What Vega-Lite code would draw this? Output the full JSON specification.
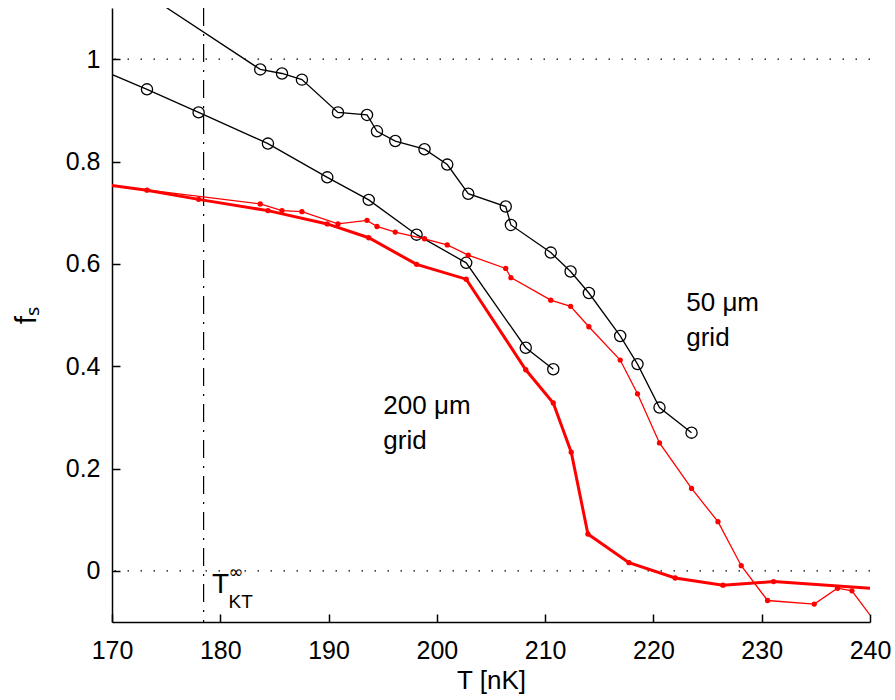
{
  "$schema": "https://vega.github.io/schema/vega-lite/v6.json",
  "width": 758,
  "height": 614,
  "autosize": {"type": "none"},
  "padding": {"left": 112, "top": 8, "right": 25, "bottom": 78},
  "background": "white",
  "config": {
    "view": {"stroke": null},
    "font": "Liberation Sans",
    "axis": {
      "grid": false,
      "domainColor": "black",
      "domainWidth": 1.5,
      "tickColor": "black",
      "tickWidth": 1.5,
      "tickSize": -8,
      "labelFont": "Liberation Sans",
      "labelFontSize": 25,
      "labelColor": "black",
      "labelFlush": false,
      "labelOverlap": false,
      "titleFont": "Liberation Sans",
      "titleFontSize": 26,
      "titleFontWeight": "normal",
      "titleColor": "black"
    }
  },
  "datasets": {
    "curves": [
      {"series": "b50", "T": 172, "f": 1.143},
      {"series": "b50", "T": 183.69, "f": 0.980},
      {"series": "b50", "T": 185.70, "f": 0.972},
      {"series": "b50", "T": 187.54, "f": 0.960},
      {"series": "b50", "T": 190.87, "f": 0.896},
      {"series": "b50", "T": 193.55, "f": 0.891},
      {"series": "b50", "T": 194.47, "f": 0.859},
      {"series": "b50", "T": 196.16, "f": 0.840},
      {"series": "b50", "T": 198.86, "f": 0.824},
      {"series": "b50", "T": 200.96, "f": 0.794},
      {"series": "b50", "T": 202.90, "f": 0.737},
      {"series": "b50", "T": 206.36, "f": 0.712},
      {"series": "b50", "T": 206.84, "f": 0.676},
      {"series": "b50", "T": 210.52, "f": 0.622},
      {"series": "b50", "T": 212.35, "f": 0.585},
      {"series": "b50", "T": 214.04, "f": 0.543},
      {"series": "b50", "T": 216.93, "f": 0.459},
      {"series": "b50", "T": 218.53, "f": 0.404},
      {"series": "b50", "T": 220.56, "f": 0.319},
      {"series": "b50", "T": 223.52, "f": 0.270},
      {"series": "b200", "T": 168, "f": 0.988},
      {"series": "b200", "T": 173.23, "f": 0.941},
      {"series": "b200", "T": 178.00, "f": 0.896},
      {"series": "b200", "T": 184.40, "f": 0.835},
      {"series": "b200", "T": 189.88, "f": 0.769},
      {"series": "b200", "T": 193.71, "f": 0.725},
      {"series": "b200", "T": 198.13, "f": 0.657},
      {"series": "b200", "T": 202.71, "f": 0.602},
      {"series": "b200", "T": 208.21, "f": 0.436},
      {"series": "b200", "T": 210.75, "f": 0.394},
      {"series": "r50", "T": 168, "f": 0.758},
      {"series": "r50", "T": 183.69, "f": 0.717},
      {"series": "r50", "T": 185.70, "f": 0.704},
      {"series": "r50", "T": 187.54, "f": 0.702},
      {"series": "r50", "T": 190.87, "f": 0.678},
      {"series": "r50", "T": 193.55, "f": 0.685},
      {"series": "r50", "T": 194.47, "f": 0.673},
      {"series": "r50", "T": 196.16, "f": 0.662},
      {"series": "r50", "T": 198.86, "f": 0.649},
      {"series": "r50", "T": 200.96, "f": 0.637},
      {"series": "r50", "T": 202.90, "f": 0.617},
      {"series": "r50", "T": 206.36, "f": 0.591},
      {"series": "r50", "T": 206.84, "f": 0.573},
      {"series": "r50", "T": 210.52, "f": 0.529},
      {"series": "r50", "T": 212.35, "f": 0.517},
      {"series": "r50", "T": 214.04, "f": 0.477},
      {"series": "r50", "T": 216.93, "f": 0.412},
      {"series": "r50", "T": 218.53, "f": 0.346},
      {"series": "r50", "T": 220.56, "f": 0.250},
      {"series": "r50", "T": 223.52, "f": 0.161},
      {"series": "r50", "T": 225.96, "f": 0.096},
      {"series": "r50", "T": 228.11, "f": 0.010},
      {"series": "r50", "T": 230.54, "f": -0.058},
      {"series": "r50", "T": 234.85, "f": -0.065},
      {"series": "r50", "T": 237.00, "f": -0.034},
      {"series": "r50", "T": 238.33, "f": -0.039},
      {"series": "r50", "T": 242, "f": -0.143},
      {"series": "r200", "T": 168, "f": 0.759},
      {"series": "r200", "T": 173.23, "f": 0.744},
      {"series": "r200", "T": 178.00, "f": 0.726},
      {"series": "r200", "T": 184.40, "f": 0.704},
      {"series": "r200", "T": 189.88, "f": 0.678},
      {"series": "r200", "T": 193.71, "f": 0.651},
      {"series": "r200", "T": 198.13, "f": 0.599},
      {"series": "r200", "T": 202.71, "f": 0.570},
      {"series": "r200", "T": 208.21, "f": 0.393},
      {"series": "r200", "T": 210.75, "f": 0.328},
      {"series": "r200", "T": 212.41, "f": 0.232},
      {"series": "r200", "T": 213.95, "f": 0.072},
      {"series": "r200", "T": 217.74, "f": 0.016},
      {"series": "r200", "T": 222.01, "f": -0.014},
      {"series": "r200", "T": 226.42, "f": -0.028},
      {"series": "r200", "T": 231.09, "f": -0.021},
      {"series": "r200", "T": 242, "f": -0.037}
    ],
    "hlines": [{"f": 0}, {"f": 1}],
    "vline": [{"T": 178.46}],
    "ann": [
      {"T": 223.03, "f": 0.507, "text": "50 μm"},
      {"T": 223.03, "f": 0.440, "text": "grid"},
      {"T": 195.06, "f": 0.307, "text": "200 μm"},
      {"T": 195.06, "f": 0.239, "text": "grid"}
    ],
    "tmain": [{"T": 179.23, "f": -0.044, "text": "T"}],
    "tsub": [{"T": 180.77, "f": -0.073, "text": "KT"}],
    "tsup": [{"T": 180.77, "f": -0.014, "text": "∞"}]
  },
  "layer": [
    {
      "data": {"name": "hlines"},
      "mark": {"type": "rule", "color": "black", "strokeWidth": 1.3, "strokeDash": [1.5, 11.5]},
      "encoding": {
        "y": {"field": "f", "type": "quantitative", "scale": {"domain": [-0.1, 1.1]},
          "axis": {"values": [0, 0.2, 0.4, 0.6, 0.8, 1], "format": "~g", "labelPadding": 20, "titlePadding": 24, "titleFontSize": 30, "title": "fₛ"}}
      }
    },
    {
      "data": {"name": "vline"},
      "mark": {"type": "rule", "color": "black", "strokeWidth": 1.2, "strokeDash": [18, 8, 2, 8]},
      "encoding": {
        "x": {"field": "T", "type": "quantitative", "scale": {"domain": [170, 240]},
          "axis": {"values": [170, 180, 190, 200, 210, 220, 230, 240], "labelPadding": 24, "titlePadding": 4, "title": "T [nK]"}}
      }
    },
    {
      "data": {"name": "curves"},
      "transform": [{"filter": "datum.series === 'b50' || datum.series === 'b200'"}],
      "mark": {"type": "line", "color": "black", "strokeWidth": 1.3, "clip": true},
      "encoding": {
        "x": {"field": "T", "type": "quantitative"},
        "y": {"field": "f", "type": "quantitative"},
        "detail": {"field": "series"}
      }
    },
    {
      "data": {"name": "curves"},
      "transform": [{"filter": "datum.series === 'b50' || datum.series === 'b200'"}],
      "mark": {"type": "point", "shape": "circle", "filled": false, "color": "black", "strokeWidth": 1.3, "size": 125, "opacity": 1, "clip": true},
      "encoding": {
        "x": {"field": "T", "type": "quantitative"},
        "y": {"field": "f", "type": "quantitative"}
      }
    },
    {
      "data": {"name": "curves"},
      "transform": [{"filter": "datum.series === 'r50'"}],
      "mark": {"type": "line", "color": "#ff0000", "strokeWidth": 1.3, "clip": true},
      "encoding": {
        "x": {"field": "T", "type": "quantitative"},
        "y": {"field": "f", "type": "quantitative"}
      }
    },
    {
      "data": {"name": "curves"},
      "transform": [{"filter": "datum.series === 'r200'"}],
      "mark": {"type": "line", "color": "#ff0000", "strokeWidth": 3, "clip": true},
      "encoding": {
        "x": {"field": "T", "type": "quantitative"},
        "y": {"field": "f", "type": "quantitative"}
      }
    },
    {
      "data": {"name": "curves"},
      "transform": [{"filter": "datum.series === 'r50' || datum.series === 'r200'"}],
      "mark": {"type": "circle", "color": "#ff0000", "size": 28, "opacity": 1, "clip": true},
      "encoding": {
        "x": {"field": "T", "type": "quantitative"},
        "y": {"field": "f", "type": "quantitative"}
      }
    },
    {
      "data": {"name": "ann"},
      "mark": {"type": "text", "align": "left", "baseline": "alphabetic", "fontSize": 26, "font": "Liberation Sans", "color": "black"},
      "encoding": {
        "x": {"field": "T", "type": "quantitative"},
        "y": {"field": "f", "type": "quantitative"},
        "text": {"field": "text"}
      }
    },
    {
      "data": {"name": "tmain"},
      "mark": {"type": "text", "align": "left", "baseline": "alphabetic", "fontSize": 28, "font": "Liberation Sans", "color": "black"},
      "encoding": {
        "x": {"field": "T", "type": "quantitative"},
        "y": {"field": "f", "type": "quantitative"},
        "text": {"field": "text"}
      }
    },
    {
      "data": {"name": "tsub"},
      "mark": {"type": "text", "align": "left", "baseline": "alphabetic", "fontSize": 19, "font": "Liberation Sans", "color": "black"},
      "encoding": {
        "x": {"field": "T", "type": "quantitative"},
        "y": {"field": "f", "type": "quantitative"},
        "text": {"field": "text"}
      }
    },
    {
      "data": {"name": "tsup"},
      "mark": {"type": "text", "align": "left", "baseline": "alphabetic", "fontSize": 18, "font": "DejaVu Sans", "color": "black"},
      "encoding": {
        "x": {"field": "T", "type": "quantitative"},
        "y": {"field": "f", "type": "quantitative"},
        "text": {"field": "text"}
      }
    }
  ]
}
